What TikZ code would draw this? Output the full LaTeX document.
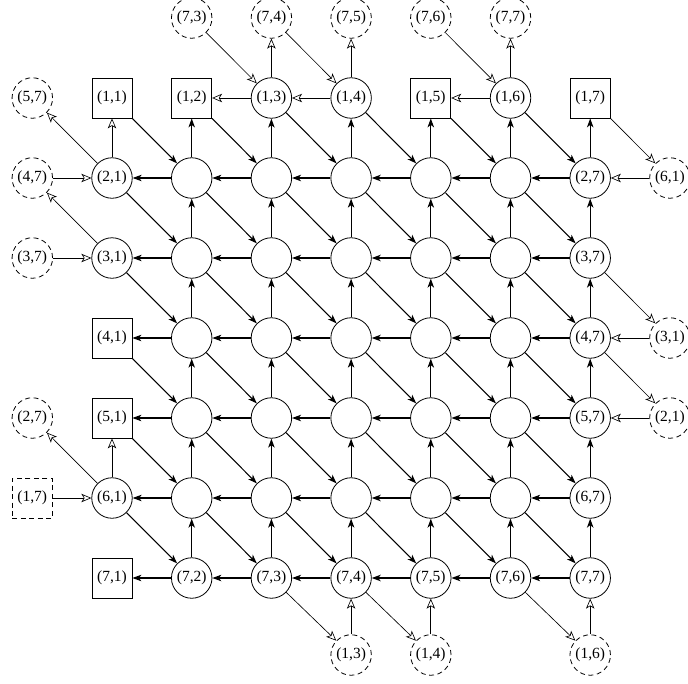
\documentclass[tikz,border=0pt]{standalone}
\usepackage{fontspec}
\setmainfont{Liberation Serif}
\usetikzlibrary{arrows.meta}
\begin{document}
\begin{tikzpicture}[x=1pt,y=-1pt]
\tikzset{
 nd/.style={draw, line width=0.8pt, inner sep=0pt, font=\fontsize{15.5}{18}\selectfont},
 cir/.style={nd, circle, minimum size=40.5pt},
 sq/.style={nd, rectangle, minimum width=40pt, minimum height=40pt},
 dcir/.style={cir, dash pattern=on 5pt off 3.5pt},
 dsq/.style={sq, dash pattern=on 5pt off 3.5pt},
 sol/.style={line width=1.05pt, -{Stealth[length=9pt,width=6.5pt,inset=2.5pt]}},
 opn/.style={line width=0.65pt, -{Stealth[open,length=10pt,width=8.5pt,inset=2.5pt]}},
}
\useasboundingbox (0,0) rectangle (688,683);
% grid coordinates
\foreach \i in {1,...,7}{
  \foreach \j in {0,...,8}{
    \coordinate (p\i\j) at ({112+79.7*(\j-1)},{98+80*(\i-1)});
  }
}
\foreach \j in {0,...,8}{
  \coordinate (p0\j) at ({112+79.7*(\j-1)},18);
  \coordinate (p8\j) at ({112+79.7*(\j-1)},655);
}
% interior nodes
\foreach \i in {2,...,6}{
  \foreach \j in {2,...,6}{
    \node[cir] (g\i\j) at (p\i\j) {};
  }
}
% row 1
\node[sq]  (g11) at (p11) {(1,1)};
\node[sq]  (g12) at (p12) {(1,2)};
\node[cir] (g13) at (p13) {(1,3)};
\node[cir] (g14) at (p14) {(1,4)};
\node[sq]  (g15) at (p15) {(1,5)};
\node[cir] (g16) at (p16) {(1,6)};
\node[sq]  (g17) at (p17) {(1,7)};
% column 1
\node[cir] (g21) at (p21) {(2,1)};
\node[cir] (g31) at (p31) {(3,1)};
\node[sq]  (g41) at (p41) {(4,1)};
\node[sq]  (g51) at (p51) {(5,1)};
\node[cir] (g61) at (p61) {(6,1)};
% column 7
\node[cir] (g27) at (p27) {(2,7)};
\node[cir] (g37) at (p37) {(3,7)};
\node[cir] (g47) at (p47) {(4,7)};
\node[cir] (g57) at (p57) {(5,7)};
\node[cir] (g67) at (p67) {(6,7)};
% row 7
\node[sq]  (g71) at (p71) {(7,1)};
\node[cir] (g72) at (p72) {(7,2)};
\node[cir] (g73) at (p73) {(7,3)};
\node[cir] (g74) at (p74) {(7,4)};
\node[cir] (g75) at (p75) {(7,5)};
\node[cir] (g76) at (p76) {(7,6)};
\node[cir] (g77) at (p77) {(7,7)};
% dashed outside nodes
\node[dcir] (t2) at (p02) {(7,3)};
\node[dcir] (t3) at (p03) {(7,4)};
\node[dcir] (t4) at (p04) {(7,5)};
\node[dcir] (t5) at (p05) {(7,6)};
\node[dcir] (t6) at (p06) {(7,7)};
\node[dcir] (l1) at (p10) {(5,7)};
\node[dcir] (l2) at (p20) {(4,7)};
\node[dcir] (l3) at (p30) {(3,7)};
\node[dcir] (l5) at (p50) {(2,7)};
\node[dsq]  (l6) at (p60) {(1,7)};
\node[dcir] (r2) at (p28) {(6,1)};
\node[dcir] (r4) at (p48) {(3,1)};
\node[dcir] (r5) at (p58) {(2,1)};
\node[dcir] (b4) at (p84) {(1,3)};
\node[dcir] (b5) at (p85) {(1,4)};
\node[dcir] (b7) at (p87) {(1,6)};
% solid connectors
\foreach \i in {2,...,7}{
  \foreach \j [evaluate=\j as \k using int(\j+1)] in {1,...,6}{
    \draw[sol] (g\i\k) -- (g\i\j);
  }
}
\foreach \j in {2,...,7}{
  \foreach \i [evaluate=\i as \k using int(\i+1)] in {1,...,6}{
    \draw[sol] (g\k\j) -- (g\i\j);
  }
}
\foreach \i [evaluate=\i as \k using int(\i+1)] in {1,...,6}{
  \foreach \j [evaluate=\j as \m using int(\j+1)] in {1,...,6}{
    \draw[sol] (g\i\j) -- (g\k\m);
  }
}
% open connectors
\draw[opn] (g13) -- (g12);
\draw[opn] (g14) -- (g13);
\draw[opn] (g16) -- (g15);
\draw[opn] (g21) -- (g11);
\draw[opn] (g61) -- (g51);
\draw[opn] (g13) -- (t3);
\draw[opn] (g14) -- (t4);
\draw[opn] (g16) -- (t6);
\draw[opn] (t2) -- (g13);
\draw[opn] (t3) -- (g14);
\draw[opn] (t5) -- (g16);
\draw[opn] (l2) -- (g21);
\draw[opn] (l3) -- (g31);
\draw[opn] (l6) -- (g61);
\draw[opn] (g21) -- (l1);
\draw[opn] (g31) -- (l2);
\draw[opn] (g61) -- (l5);
\draw[opn] (r2) -- (g27);
\draw[opn] (r4) -- (g47);
\draw[opn] (r5) -- (g57);
\draw[opn] (g17) -- (r2);
\draw[opn] (g37) -- (r4);
\draw[opn] (g47) -- (r5);
\draw[opn] (b4) -- (g74);
\draw[opn] (b5) -- (g75);
\draw[opn] (b7) -- (g77);
\draw[opn] (g73) -- (b4);
\draw[opn] (g74) -- (b5);
\draw[opn] (g76) -- (b7);
\end{tikzpicture}
\end{document}
